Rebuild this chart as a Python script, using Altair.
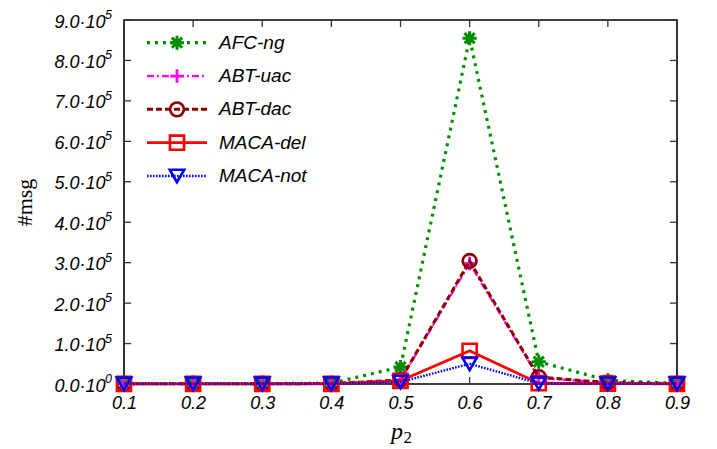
import altair as alt
import pandas as pd

# ---- data ----
p2 = [0.1, 0.2, 0.3, 0.4, 0.5, 0.6, 0.7, 0.8, 0.9]
series_names = ["AFC-ng", "ABT-uac", "ABT-dac", "MACA-del", "MACA-not"]
afc_ng = [1000, 1000, 1000, 2000, 42000, 855000, 55000, 9000, 1500]
abt_uac = [800, 800, 800, 1000, 9000, 298000, 15000, 3000, 1000]
abt_dac = [800, 800, 800, 1000, 10000, 304000, 17000, 3500, 1000]
maca_del = [500, 500, 500, 600, 8000, 82000, 2000, 1000, 500]
maca_not = [300, 300, 300, 400, 5000, 50000, 1500, 700, 300]
x_ticks = [0.1, 0.2, 0.3, 0.4, 0.5, 0.6, 0.7, 0.8, 0.9]
y_ticks = [0, 100000, 200000, 300000, 400000, 500000, 600000, 700000, 800000, 900000]
y_tick_exponents = ["0", "5", "5", "5", "5", "5", "5", "5", "5", "5"]

all_vals = [afc_ng, abt_uac, abt_dac, maca_del, maca_not]
rows = []
for name, vals in zip(series_names, all_vals):
    for xv, yv in zip(p2, vals):
        rows.append({"p2": xv, "msg": yv, "series": name})
df = pd.DataFrame(rows)
leg_df = pd.DataFrame({"series": series_names})
xt_df = pd.DataFrame({"t": x_ticks})
yt_df = pd.DataFrame({"t": y_ticks, "e": y_tick_exponents})
sub_df = pd.DataFrame({"s": ["2"]})

W, H = 553, 364

STAR = "M-1,0L1,0M0,-1L0,1M-0.72,-0.72L0.72,0.72M-0.72,0.72L0.72,-0.72"
PLUS = "M-1,0L1,0M0,-1L0,1"

styles = {
    "AFC-ng": dict(color="#008f00", dash=[3, 5], width=3.2, shape=STAR, size=200, mw=3),
    "ABT-uac": dict(color="#ff00ff", dash=[7, 3, 2, 3], width=2.2, shape=PLUS, size=180, mw=2.8),
    "ABT-dac": dict(color="#8b0000", dash=[6, 3], width=3, shape="circle", size=190, mw=2.6),
    "MACA-del": dict(color="#ff0000", dash=[1, 0], width=2.8, shape="square", size=200, mw=2.6),
    "MACA-not": dict(color="#0000ff", dash=[1.6, 1.4], width=2.4, shape="triangle-down", size=210, mw=2.6),
}

xscale = alt.Scale(domain=[0.1, 0.9], nice=False, zero=False)
yscale = alt.Scale(domain=[0, 900000], nice=False)

x_axis = alt.Axis(
    values=x_ticks, format=".1f", ticks=False, domain=False, grid=False,
    labelFont="Liberation Sans", labelFontStyle="italic", labelFontSize=18,
    labelColor="black", labelPadding=10, labelFlush=False, labelOverlap=False,
    title="p", titleFont="Liberation Serif", titleFontStyle="italic",
    titleFontWeight="normal", titleFontSize=24, titleColor="black",
    titleX=W / 2 - 4, titleAlign="center",
    titleY=54, titleBaseline="alphabetic",
)
y_axis = alt.Axis(
    values=y_ticks, ticks=False, domain=False, grid=False,
    labelExpr="format(datum.value / 100000, '.1f') + '·10'",
    labelFont="Liberation Sans", labelFontStyle="italic", labelFontSize=18,
    labelColor="black", labelPadding=19, labelOffset=2, labelOverlap=False,
    title="#msg", titleFont="Liberation Serif", titleFontWeight="normal",
    titleFontSize=22, titleColor="black", titleAngle=270,
    titleX=-100, titleY=H / 2, titleAlign="center", titleBaseline="middle",
)

base_x = alt.X("p2:Q", scale=xscale, axis=x_axis)
base_y = alt.Y("msg:Q", scale=yscale, axis=y_axis)

main_layers = []

# inward mirror ticks (gnuplot style)
tick_col = "#333333"
main_layers.append(
    alt.Chart(xt_df).mark_rule(color=tick_col, strokeWidth=1.3).encode(
        x=alt.X("t:Q", scale=xscale, axis=x_axis), y=alt.value(H), y2=alt.value(H - 7))
)
main_layers.append(
    alt.Chart(xt_df).mark_rule(color=tick_col, strokeWidth=1.3).encode(
        x=alt.X("t:Q", scale=xscale, axis=x_axis), y=alt.value(0), y2=alt.value(7))
)
main_layers.append(
    alt.Chart(yt_df).mark_rule(color=tick_col, strokeWidth=1.3).encode(
        y=alt.Y("t:Q", scale=yscale, axis=y_axis), x=alt.value(0), x2=alt.value(7))
)
main_layers.append(
    alt.Chart(yt_df).mark_rule(color=tick_col, strokeWidth=1.3).encode(
        y=alt.Y("t:Q", scale=yscale, axis=y_axis), x=alt.value(W), x2=alt.value(W - 7))
)
# superscript exponents of the y tick labels
main_layers.append(
    alt.Chart(yt_df).mark_text(align="left", baseline="middle", dy=-5, font="Liberation Sans",
                               fontStyle="italic", fontSize=12.5, color="black").encode(
        y=alt.Y("t:Q", scale=yscale, axis=y_axis), x=alt.value(-19), text="e:N")
)
# subscript of the x axis title
main_layers.append(
    alt.Chart(sub_df).mark_text(align="left", baseline="alphabetic", font="Liberation Serif",
                                fontSize=17, color="black").encode(
        x=alt.value(W / 2 + 3), y=alt.value(H + 59), text="s:N")
)

for name in series_names:
    s = styles[name]
    sub = alt.Chart(df).transform_filter(alt.datum.series == name)
    main_layers.append(
        sub.mark_line(color=s["color"], strokeDash=s["dash"], strokeWidth=s["width"],
                      strokeCap="butt").encode(x=base_x, y=base_y)
    )
    main_layers.append(
        sub.mark_point(shape=s["shape"], size=s["size"], stroke=s["color"], filled=False,
                       strokeWidth=s["mw"], opacity=1).encode(x=base_x, y=base_y)
    )

# legend inside the plot, upper left
leg_scale = alt.Scale(type="point", domain=series_names, range=[22.7, 156], padding=0)
leg_y = alt.Y("series:N", scale=leg_scale, axis=None)
legend_layers = []
for name in series_names:
    s = styles[name]
    sub = alt.Chart(leg_df).transform_filter(alt.datum.series == name)
    legend_layers.append(
        sub.mark_rule(color=s["color"], strokeDash=s["dash"], strokeWidth=s["width"],
                      strokeCap="butt").encode(x=alt.value(23), x2=alt.value(83), y=leg_y)
    )
    legend_layers.append(
        sub.mark_point(shape=s["shape"], size=s["size"], stroke=s["color"], filled=False,
                       strokeWidth=s["mw"], opacity=1).encode(x=alt.value(53), y=leg_y)
    )
    legend_layers.append(
        sub.mark_text(align="left", baseline="middle", font="Liberation Sans",
                      fontStyle="italic", fontSize=19, color="black").encode(
            x=alt.value(95), y=leg_y, text="series:N")
    )

chart = (
    alt.layer(alt.layer(*main_layers), alt.layer(*legend_layers))
    .resolve_scale(y="independent")
    .properties(
        width=W, height=H,
        padding={"left": 116, "top": 12, "right": 20, "bottom": 64},
        autosize=alt.AutoSizeParams(type="none"),
        background="white",
    )
    .configure_view(stroke="black", strokeWidth=1.6)
)

chart.save("out.html", embed_options={"renderer": "svg", "actions": False})
